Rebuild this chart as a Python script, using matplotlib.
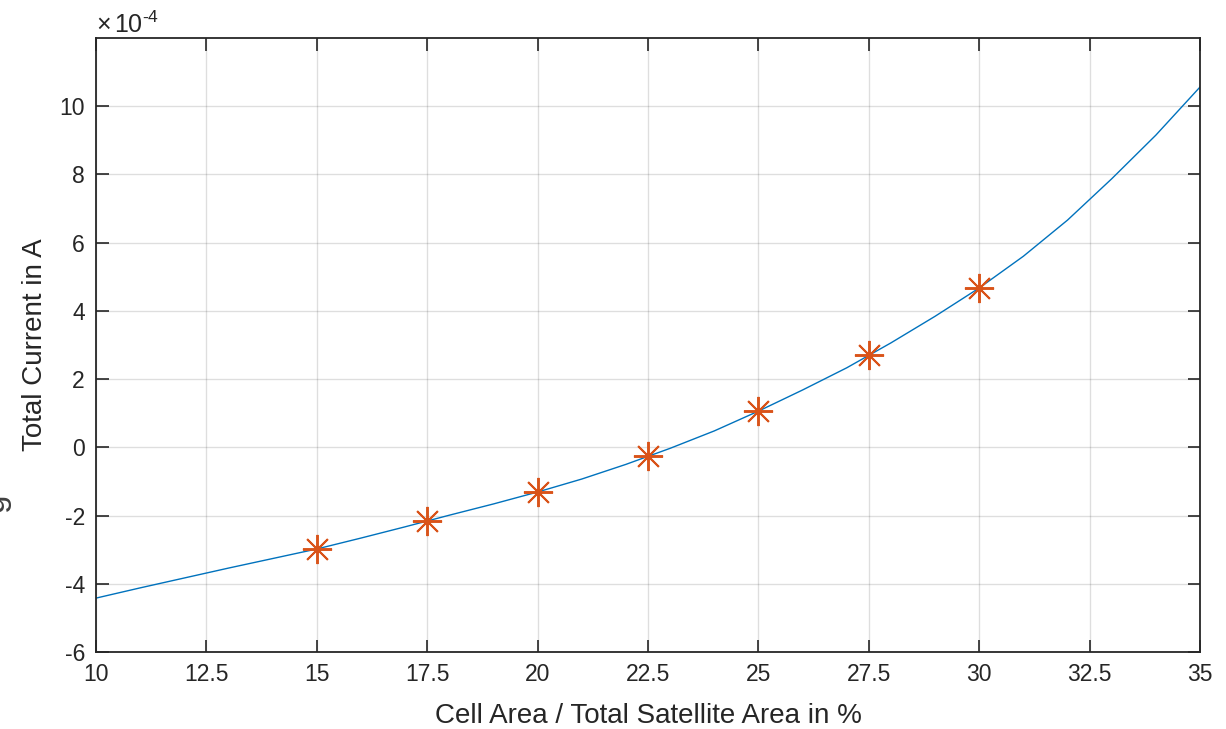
import matplotlib
matplotlib.use("Agg")
import matplotlib.pyplot as plt
import numpy as np

plt.rcParams['font.family'] = ['Liberation Sans', 'DejaVu Sans']
plt.rcParams['mathtext.fontset'] = 'custom'
plt.rcParams['mathtext.rm'] = 'Liberation Sans'
plt.rcParams['mathtext.it'] = 'Liberation Sans'
plt.rcParams['axes.unicode_minus'] = False

# curve: total current vs cell area share, in units of 1e-4 A
area = [10, 11, 12, 13, 14, 15, 16, 17, 18, 19, 20, 21, 22, 23, 24, 25,
        26, 27, 28, 29, 30, 31, 32, 33, 34, 35]
current = [-4.42, -4.12, -3.83, -3.54, -3.26, -2.98, -2.66, -2.33, -1.99, -1.66,
           -1.31, -0.93, -0.50, -0.03, 0.48, 1.06, 1.68, 2.33, 3.06, 3.84,
           4.67, 5.60, 6.66, 7.87, 9.15, 10.56]

# marked points
mark_area = [15, 17.5, 20, 22.5, 25, 27.5, 30]
mark_current = [-2.98, -2.16, -1.31, -0.26, 1.06, 2.70, 4.67]

xticks = [10, 12.5, 15, 17.5, 20, 22.5, 25, 27.5, 30, 32.5, 35]
xticklabels = ['10', '12.5', '15', '17.5', '20', '22.5', '25', '27.5', '30', '32.5', '35']
yticks = [-6, -4, -2, 0, 2, 4, 6, 8, 10]

fig = plt.figure(figsize=(12.26, 7.29), dpi=100)
ax = fig.add_axes([0.0783, 0.1056, 0.9005, 0.8424])

ax.plot(area, current, color='#0072BD', lw=1.0)
ax.plot(mark_area, mark_current, ls='none', marker=(8, 2, 0), markersize=21,
        markeredgecolor='#D95319', markeredgewidth=1.4)

ax.set_xlim(10, 35)
ax.set_ylim(-6, 12)
ax.set_xticks(xticks)
ax.set_xticklabels(xticklabels)
ax.set_yticks(yticks)
ax.set_yticklabels([str(v) for v in yticks])

# exponent label like matlab puts it
ax.text(0.0, 1.0, r'$\times\,10^{\text{-4}}$', transform=ax.transAxes, fontsize=18,
        color='#262626', ha='left', va='bottom')

ax.grid(True, color='#262626', alpha=0.15, lw=1.0)
ax.tick_params(direction='in', length=9, width=1.2, top=True, right=True,
               labelsize=16.5, colors='#262626', pad=8)
for s in ax.spines.values():
    s.set_color('#262626')
    s.set_linewidth(1.3)

ax.set_xlabel('Cell Area / Total Satellite Area in %', fontsize=20, color='#262626', labelpad=12)
ax.set_ylabel('Total Current in A', fontsize=20, color='#262626', labelpad=8)

# bit of a cut off label at the left border
fig.text(-0.004, 0.31, 'g', rotation=90, fontsize=24, color='#404040', ha='center', va='center')

fig.savefig('out.png', dpi=100)
